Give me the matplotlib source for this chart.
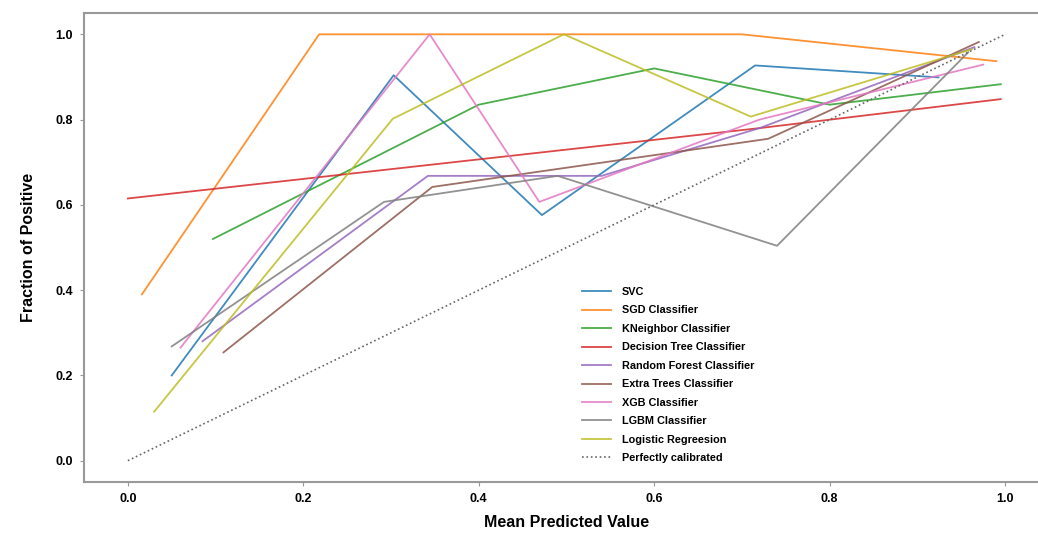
import matplotlib

matplotlib.use("Agg")
import matplotlib.pyplot as plt

plt.rcParams["font.family"] = ["Liberation Sans", "DejaVu Sans"]
plt.rcParams["font.weight"] = "bold"

# calibration curves: mean predicted value (x) vs fraction of positives (y)
svc_x = [0.05, 0.303, 0.472, 0.715, 0.924]
svc_y = [0.200, 0.904, 0.576, 0.927, 0.899]

sgd_x = [0.016, 0.218, 0.70, 0.99]
sgd_y = [0.39, 1.0, 1.0, 0.937]

knn_x = [0.097, 0.40, 0.60, 0.80, 0.995]
knn_y = [0.52, 0.835, 0.92, 0.835, 0.883]

dt_x = [0.0, 0.72, 0.995]
dt_y = [0.615, 0.78, 0.848]

rf_x = [0.085, 0.342, 0.54, 0.72, 0.965]
rf_y = [0.28, 0.668, 0.668, 0.78, 0.97]

et_x = [0.109, 0.347, 0.73, 0.97]
et_y = [0.254, 0.642, 0.755, 0.982]

xgb_x = [0.06, 0.344, 0.469, 0.72, 0.975]
xgb_y = [0.265, 1.0, 0.607, 0.80, 0.929]

lgbm_x = [0.05, 0.292, 0.49, 0.74, 0.958]
lgbm_y = [0.268, 0.607, 0.668, 0.504, 0.958]

lr_x = [0.03, 0.302, 0.497, 0.71, 0.962]
lr_y = [0.115, 0.802, 1.0, 0.807, 0.965]

perfect = [0.0, 1.0]

SERIES = [
    ("SVC", svc_x, svc_y, "#1f77b4"),
    ("SGD Classifier", sgd_x, sgd_y, "#ff7f0e"),
    ("KNeighbor Classifier", knn_x, knn_y, "#2ca02c"),
    ("Decision Tree Classifier", dt_x, dt_y, "#d62728"),
    ("Random Forest Classifier", rf_x, rf_y, "#9467bd"),
    ("Extra Trees Classifier", et_x, et_y, "#8c564b"),
    ("XGB Classifier", xgb_x, xgb_y, "#e377c2"),
    ("LGBM Classifier", lgbm_x, lgbm_y, "#7f7f7f"),
    ("Logistic Regreesion", lr_x, lr_y, "#bcbd22"),
]

fig = plt.figure(figsize=(10.38, 5.33), dpi=100)
ax = fig.add_axes([84 / 1038, 51 / 533, 965 / 1038, 469 / 533])

for label, xs, ys, color in SERIES:
    ax.plot(xs, ys, color=color, linewidth=1.3, alpha=0.85, label=label)
ax.plot(perfect, perfect, linestyle=":", color="#666666", linewidth=1.2, label="Perfectly calibrated")

ax.set_xlim(-0.05, 1.05)
ax.set_ylim(-0.05, 1.05)
ax.set_xticks([0.0, 0.2, 0.4, 0.6, 0.8, 1.0])
ax.set_yticks([0.0, 0.2, 0.4, 0.6, 0.8, 1.0])
ax.tick_params(labelsize=9, length=3, color="#999999", pad=5)
for spine in ax.spines.values():
    spine.set_color("#999999")
    spine.set_linewidth(1.5)
ax.set_xlabel("Mean Predicted Value", fontsize=11.5, fontweight="bold", labelpad=7)
ax.set_ylabel("Fraction of Positive", fontsize=11.5, fontweight="bold", labelpad=14)

ax.legend(
    loc="center",
    bbox_to_anchor=(0.605, 0.228),
    frameon=False,
    fontsize=7.8,
    labelspacing=0.78,
    handlelength=2.7,
    handletextpad=1.0,
)

fig.savefig("out.png", dpi=100)
